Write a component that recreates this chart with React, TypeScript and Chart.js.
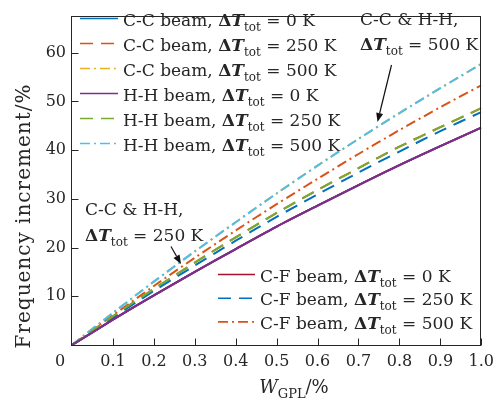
import React, { useEffect, useRef } from 'react';
import { Chart, registerables } from 'chart.js';
Chart.register(...registerables);

// ---- data ----
const wgpl = [0, 0.1, 0.2, 0.3, 0.4, 0.5, 0.6, 0.7, 0.8, 0.9, 1.0];
const cc0 = [0, 5.2, 10.2, 15.0, 19.7, 24.3, 28.6, 32.8, 36.9, 40.8, 44.6];
const cc250 = [0, 5.9, 11.5, 16.9, 22.1, 27.1, 31.8, 36.3, 40.7, 44.7, 48.6];
const cc500 = [0, 6.6, 13.0, 19.2, 25.2, 31.1, 36.8, 42.3, 47.6, 52.7, 57.7];
const hh0 = [0, 5.2, 10.2, 15.0, 19.7, 24.3, 28.6, 32.8, 36.9, 40.8, 44.6];
const hh250 = [0, 5.9, 11.5, 16.9, 22.1, 27.1, 31.8, 36.3, 40.7, 44.7, 48.6];
const hh500 = [0, 6.6, 13.0, 19.2, 25.2, 31.1, 36.8, 42.3, 47.6, 52.7, 57.7];
const cf0 = [0, 5.2, 10.2, 15.0, 19.7, 24.3, 28.6, 32.8, 36.9, 40.8, 44.6];
const cf250 = [0, 5.6, 11.1, 16.3, 21.4, 26.3, 30.9, 35.4, 39.7, 43.9, 47.8];
const cf500 = [0, 6.1, 12.1, 17.9, 23.5, 28.9, 34.1, 39.2, 44.1, 48.8, 53.3];
const xTicks = [0.1, 0.2, 0.3, 0.4, 0.5, 0.6, 0.7, 0.8, 0.9, 1.0];
const yTicks = [10, 20, 30, 40, 50, 60];
const legendTop = ['C-C beam|0', 'C-C beam|250', 'C-C beam|500', 'H-H beam|0', 'H-H beam|250', 'H-H beam|500'];
const legendBottom = ['C-F beam|0', 'C-F beam|250', 'C-F beam|500'];

const FAM = '"DejaVu Serif", serif';
const SOLID: number[] = [];
const DASH = [13, 8];
const DASHDOT = [10, 4, 2, 4];

const series = [
  { key: 'C-C beam|0', data: cc0, color: '#0072BD', dash: SOLID, order: 2 },
  { key: 'C-C beam|250', data: cc250, color: '#D95319', dash: DASH, order: 2 },
  { key: 'C-C beam|500', data: cc500, color: '#EDB120', dash: DASHDOT, order: 2 },
  { key: 'H-H beam|0', data: hh0, color: '#7E2F8E', dash: SOLID, order: 0 },
  { key: 'H-H beam|250', data: hh250, color: '#77AC30', dash: DASH, order: 0 },
  { key: 'H-H beam|500', data: hh500, color: '#4DBEEE', dash: DASHDOT, order: 0 },
  { key: 'C-F beam|0', data: cf0, color: '#A2142F', dash: SOLID, order: 1 },
  { key: 'C-F beam|250', data: cf250, color: '#0072BD', dash: DASH, order: 1 },
  { key: 'C-F beam|500', data: cf500, color: '#D95319', dash: DASHDOT, order: 1 },
];

type Part = [string, string, number];
function rich(ctx: CanvasRenderingContext2D, x: number, y: number, parts: Part[], draw = true) {
  let cx = x;
  for (const [t, f, dy] of parts) {
    ctx.font = f;
    if (draw) ctx.fillText(t, cx, y + dy);
    cx += ctx.measureText(t).width;
  }
  return cx - x;
}

const LF = 17;
const F = `${LF}px ${FAM}`;
const FB = `bold ${LF}px ${FAM}`;
const FBI = `italic bold ${LF}px ${FAM}`;
const FS = `${Math.round(LF * 0.72)}px ${FAM}`;
function dtParts(pre: string, post: string): Part[] {
  return [[pre, F, 0], ['Δ', FB, 0], ['T', FBI, 0], ['tot', FS, 5], [post, F, 0]];
}

function arrow(ctx: CanvasRenderingContext2D, x1: number, y1: number, x2: number, y2: number) {
  const a = Math.atan2(y2 - y1, x2 - x1);
  const L = 9, W = 3.5;
  const bx = x2 - L * Math.cos(a), by = y2 - L * Math.sin(a);
  ctx.beginPath();
  ctx.moveTo(x1, y1);
  ctx.lineTo(bx, by);
  ctx.stroke();
  ctx.beginPath();
  ctx.moveTo(x2, y2);
  ctx.lineTo(bx + W * Math.sin(a), by - W * Math.cos(a));
  ctx.lineTo(bx - W * Math.sin(a), by + W * Math.cos(a));
  ctx.closePath();
  ctx.fill();
}

const decor = {
  id: 'decor',
  afterDraw(chart: any) {
    const ctx: CanvasRenderingContext2D = chart.ctx;
    const { left, right, top, bottom } = chart.chartArea;
    const xs = chart.scales.x, ys = chart.scales.y;
    ctx.save();
    ctx.strokeStyle = '#262626';
    ctx.fillStyle = '#262626';
    ctx.lineWidth = 1;
    const L = Math.round(left) - 0.5, R = Math.round(right) - 0.5, T = Math.round(top) + 0.5, B = Math.round(bottom) + 0.5;
    ctx.strokeRect(L, T, R - L, B - T);
    ctx.beginPath();
    for (const v of xTicks) {
      const px = Math.round(xs.getPixelForValue(v)) + 0.5;
      ctx.moveTo(px, B); ctx.lineTo(px, B - 7);
    }
    for (const v of yTicks) {
      const py = Math.round(ys.getPixelForValue(v)) + 0.5;
      ctx.moveTo(L, py); ctx.lineTo(L + 7, py);
    }
    ctx.stroke();

    // origin label
    ctx.font = `16px ${FAM}`;
    ctx.textAlign = 'center';
    ctx.textBaseline = 'alphabetic';
    ctx.fillText('0', 60, 366);
    ctx.textAlign = 'left';

    // x title
    const xt: Part[] = [['W', `italic 18px ${FAM}`, 0], ['GPL', `13px ${FAM}`, 5], ['/%', `18px ${FAM}`, 0]];
    const xw = rich(ctx, 0, 0, xt, false);
    rich(ctx, 294 - xw / 2, 393, xt);

    // y title
    ctx.save();
    ctx.translate(25, 216);
    ctx.rotate(-Math.PI / 2);
    ctx.font = `20px ${FAM}`;
    (ctx as any).letterSpacing = '1px';
    ctx.textAlign = 'center';
    ctx.textBaseline = 'middle';
    ctx.fillText('Frequency increment/%', 0, 0);
    (ctx as any).letterSpacing = '0px';
    ctx.restore();

    // legends
    const drawLegend = (keys: string[], x0: number, x1: number, tx: number, y0: number, dy: number) => {
      keys.forEach((k, i) => {
        const s = series.find((q) => q.key === k)!;
        const cy = y0 + i * dy;
        ctx.save();
        ctx.strokeStyle = s.color;
        ctx.lineWidth = 1.6;
        ctx.setLineDash(s.dash);
        ctx.beginPath();
        ctx.moveTo(x0, cy); ctx.lineTo(x1, cy);
        ctx.stroke();
        ctx.restore();
        const [name, t] = k.split('|');
        ctx.fillStyle = '#262626';
        ctx.textBaseline = 'alphabetic';
        rich(ctx, tx, cy + 7, dtParts(name + ', ', ` = ${t} K`));
      });
    };
    drawLegend(legendTop, 80, 118, 123, 18.5, 25);
    drawLegend(legendBottom, 218, 255, 260, 274.5, 23.7);

    // annotations
    ctx.fillStyle = '#262626';
    rich(ctx, 360, 25, [['C-C & H-H,', F, 0]]);
    rich(ctx, 360, 50, dtParts('', ' = 500 K'));
    rich(ctx, 85, 215, [['C-C & H-H,', F, 0]]);
    rich(ctx, 85, 241, dtParts('', ' = 250 K'));
    ctx.strokeStyle = '#111';
    ctx.fillStyle = '#111';
    ctx.lineWidth = 1.2;
    arrow(ctx, 391.5, 65, 377.5, 122);
    arrow(ctx, 171, 246.5, 181, 264);
    ctx.restore();
  },
};

export default function App() {
  const ref = useRef<HTMLCanvasElement>(null);
  useEffect(() => {
    const chart = new Chart(ref.current!, {
      type: 'line',
      data: {
        datasets: series.map((s) => ({
          label: s.key,
          data: wgpl.map((x, i) => ({ x, y: s.data[i] })),
          borderColor: s.color,
          backgroundColor: s.color,
          borderDash: s.dash,
          borderWidth: 2,
          pointRadius: 0,
          fill: false,
          tension: 0.3,
          order: s.order,
        })),
      },
      options: {
        responsive: false,
        animation: false,
        events: [],
        layout: { padding: { left: 0, right: 15, top: 5, bottom: 0 } },
        plugins: { legend: { display: false }, tooltip: { enabled: false } },
        scales: {
          x: {
            type: 'linear',
            min: 0,
            max: 1,
            afterFit: (s: any) => { s.height = 57; },
            afterBuildTicks: (s: any) => { s.ticks = [0, ...xTicks].map((v) => ({ value: v })); },
            grid: { display: false, drawTicks: false },
            border: { display: false },
            ticks: {
              padding: 7,
              color: '#262626',
              font: { family: FAM, size: 16 },
              maxRotation: 0,
              autoSkip: false,
              callback: (v: any) => (v === 0 ? '' : Number(v).toFixed(1)),
            },
          },
          y: {
            type: 'linear',
            min: 0,
            max: 67.6,
            afterFit: (s: any) => { s.width = 72; },
            afterBuildTicks: (s: any) => { s.ticks = [0, ...yTicks].map((v) => ({ value: v })); },
            grid: { display: false, drawTicks: false },
            border: { display: false },
            ticks: {
              padding: 6,
              color: '#262626',
              font: { family: FAM, size: 16 },
              autoSkip: false,
              callback: (v: any) => (v === 0 ? '' : String(v)),
            },
          },
        },
      },
      plugins: [decor],
    } as any);
    return () => chart.destroy();
  }, []);
  return (
    <div style={{ position: 'fixed', left: 0, top: 0, width: 501, height: 402, background: '#fff' }}>
      <canvas ref={ref} width={501} height={402} style={{ display: 'block' }} />
    </div>
  );
}
